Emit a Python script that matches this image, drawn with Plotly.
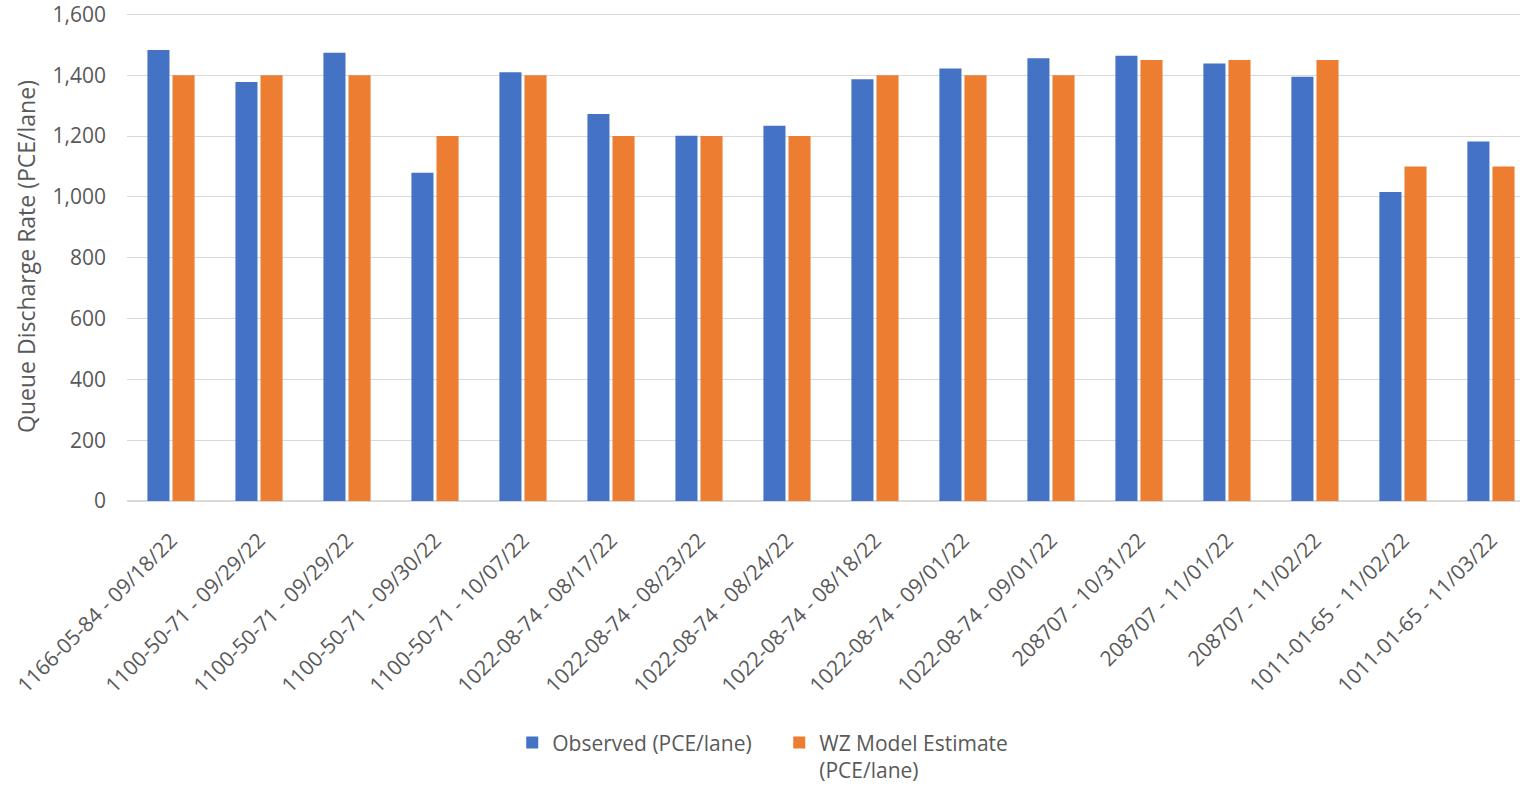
import plotly.graph_objects as go

sites = [
    "1166-05-84 - 09/18/22", "1100-50-71 - 09/29/22", "1100-50-71 - 09/29/22",
    "1100-50-71 - 09/30/22", "1100-50-71 - 10/07/22", "1022-08-74 - 08/17/22",
    "1022-08-74 - 08/23/22", "1022-08-74 - 08/24/22", "1022-08-74 - 08/18/22",
    "1022-08-74 - 09/01/22", "1022-08-74 - 09/01/22", "208707 - 10/31/22",
    "208707 - 11/01/22", "208707 - 11/02/22", "1011-01-65 - 11/02/22",
    "1011-01-65 - 11/03/22",
]
observed = [1483, 1378, 1474, 1079, 1410, 1273, 1201, 1234,
            1387, 1422, 1456, 1464, 1439, 1395, 1016, 1182]
model_estimate = [1400, 1400, 1400, 1200, 1400, 1200, 1200, 1200,
                  1400, 1400, 1400, 1450, 1450, 1450, 1100, 1100]
y_ticks = [0, 200, 400, 600, 800, 1000, 1200, 1400, 1600]

x_idx = list(range(len(sites)))
font_family = "Open Sans, Noto Sans, sans-serif"
gray_text = "#595959"

fig = go.Figure()
fig.add_trace(go.Bar(x=x_idx, y=observed, name="Observed (PCE/lane)",
                     marker=dict(color="#4472C4", line=dict(width=0))))
fig.add_trace(go.Bar(x=x_idx, y=model_estimate, name="WZ Model Estimate<br>(PCE/lane)",
                     marker=dict(color="#ED7D31", line=dict(width=0))))

fig.update_layout(
    width=1520, height=787,
    margin=dict(l=127, r=0, t=12, b=286),
    paper_bgcolor="white", plot_bgcolor="white",
    barmode="group", bargap=0.43, bargroupgap=0.12,
    font=dict(family=font_family, color=gray_text, size=21),
    showlegend=True,
    legend=dict(orientation="h", xref="container", yref="container",
                x=0.337, y=0.082, xanchor="left", yanchor="top",
                font=dict(size=21, color=gray_text), itemwidth=30,
                entrywidth=222, entrywidthmode="pixels",
                traceorder="normal", valign="top"),
    xaxis=dict(
        tickmode="array", tickvals=x_idx, ticktext=sites,
        tickangle=-45, range=[-0.5, 15.33], automargin=False,
        showgrid=False, showline=True, linecolor="#d9d9d9", linewidth=1,
        ticks="", ticklabelstandoff=18, tickfont=dict(size=21, color=gray_text),
    ),
    yaxis=dict(
        range=[0, 1608], tickvals=y_ticks, automargin=False,
        ticktext=[f"{v:,}" for v in y_ticks],
        ticklabeloverflow="allow",
        showgrid=True, gridcolor="#d9d9d9", gridwidth=1,
        zeroline=True, zerolinecolor="#d9d9d9",
        ticks="", ticklen=0, ticklabelstandoff=20,
        tickfont=dict(size=21, color=gray_text),
        title=dict(text="Queue Discharge Rate (PCE/lane)",
                   font=dict(size=23, color=gray_text), standoff=10),
    ),
)

fig.write_html("out.html")
